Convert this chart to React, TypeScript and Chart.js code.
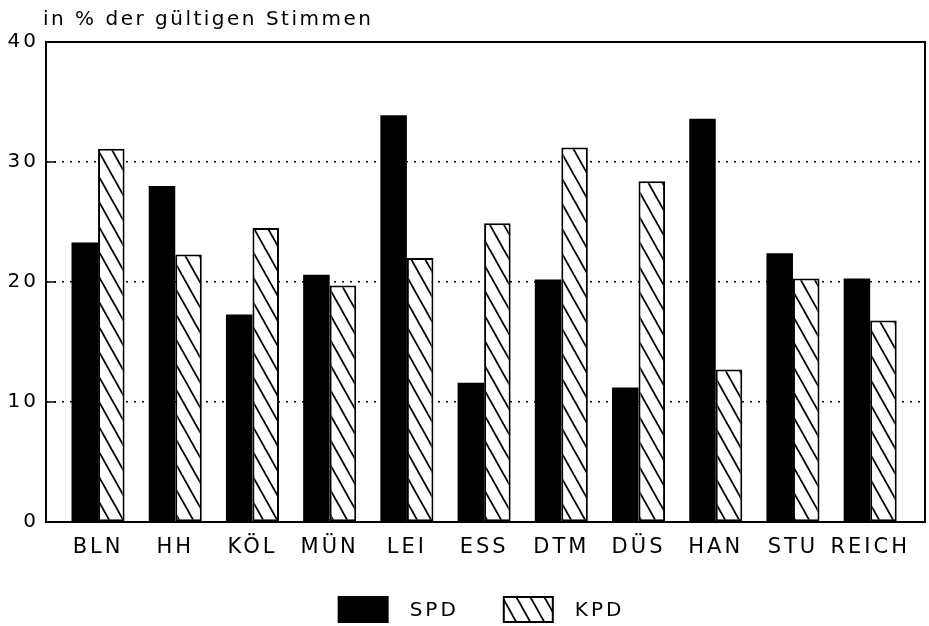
import { useEffect, useRef } from 'react';
import { Chart, registerables } from 'chart.js';

Chart.register(...registerables);

const CATEGORIES = ['BLN', 'HH', 'KÖL', 'MÜN', 'LEI', 'ESS', 'DTM', 'DÜS', 'HAN', 'STU', 'REICH'];
const SPD = [23.3, 28.0, 17.3, 20.6, 33.9, 11.6, 20.2, 11.2, 33.6, 22.4, 20.3];
const KPD = [31.1, 22.3, 24.5, 19.7, 22.0, 24.9, 31.2, 28.4, 12.7, 20.3, 16.8];
const SERIES_NAMES = ['SPD', 'KPD'];
const Y_MIN = 0;
const Y_MAX = 40;
const Y_STEP = 10;
const TITLE = 'in % der gültigen Stimmen';

const FONT = '"DejaVu Sans", "Liberation Sans", sans-serif';

function makeHatch(ctx: CanvasRenderingContext2D) {
  const w = 14;
  const h = 25;
  const c = document.createElement('canvas');
  c.width = w;
  c.height = h;
  const g = c.getContext('2d')!;
  g.fillStyle = '#fff';
  g.fillRect(0, 0, w, h);
  g.strokeStyle = '#000';
  g.lineWidth = 1.8;
  for (const ox of [-w, 0, w]) {
    g.beginPath();
    g.moveTo(ox - w, -h);
    g.lineTo(ox + 2 * w, 2 * h);
    g.stroke();
  }
  return ctx.createPattern(c, 'repeat')!;
}

const spacingPlugin = {
  id: 'spacing',
  beforeDraw(chart: any) {
    (chart.ctx as any).letterSpacing = '3px';
  },
};

const framePlugin = {
  id: 'frame',
  afterDatasetsDraw(chart: any) {
    const { ctx, chartArea } = chart;
    const { left, right, top, bottom } = chartArea;
    ctx.save();
    ctx.strokeStyle = '#000';
    ctx.lineWidth = 2;
    ctx.setLineDash([]);
    ctx.strokeRect(left, top, right - left, bottom - top);
    const y = chart.scales.y;
    ctx.lineWidth = 1.5;
    y.ticks.forEach((t: any) => {
      const py = y.getPixelForValue(t.value);
      ctx.beginPath();
      ctx.moveTo(left, py);
      ctx.lineTo(left + 10, py);
      ctx.stroke();
    });
    ctx.restore();
  },
};

const titlePlugin = {
  id: 'topTitle',
  afterDraw(chart: any) {
    const { ctx, chartArea } = chart;
    ctx.save();
    ctx.font = `20px ${FONT}`;
    ctx.letterSpacing = '2.5px';
    ctx.fillStyle = '#000';
    ctx.textAlign = 'left';
    ctx.textBaseline = 'alphabetic';
    ctx.fillText(TITLE, chartArea.left - 3, chartArea.top - 17);
    ctx.restore();
  },
};

const legendPlugin = {
  id: 'bottomLegend',
  afterDraw(chart: any) {
    const { ctx, chartArea } = chart;
    ctx.save();
    ctx.font = `20px ${FONT}`;
    ctx.letterSpacing = '3px';
    ctx.textBaseline = 'middle';
    ctx.textAlign = 'left';
    const boxW = 49;
    const boxH = 25;
    const gap = 22;
    const itemGap = 45;
    const items = chart.data.datasets.map((ds: any) => ({
      label: ds.label,
      fill: ds.backgroundColor,
      border: ds.borderColor,
      bw: ds.borderWidth,
    }));
    const widths = items.map((it: any) => boxW + gap + ctx.measureText(it.label).width);
    const total = widths.reduce((a: number, b: number) => a + b, 0) + itemGap * (items.length - 1);
    let x = (chartArea.left + chartArea.right) / 2 - 4 - total / 2;
    const cy = chart.height - 16.5;
    items.forEach((it: any, i: number) => {
      ctx.fillStyle = it.fill;
      ctx.fillRect(x, cy - boxH / 2, boxW, boxH);
      ctx.strokeStyle = '#000';
      ctx.lineWidth = 2;
      ctx.strokeRect(x, cy - boxH / 2, boxW, boxH);
      ctx.fillStyle = '#000';
      ctx.fillText(it.label, x + boxW + gap, cy + 1);
      x += widths[i] + itemGap;
    });
    ctx.restore();
  },
};

export default function App() {
  const ref = useRef<HTMLCanvasElement | null>(null);

  useEffect(() => {
    const canvas = ref.current!;
    const ctx = canvas.getContext('2d')!;
    const hatch = makeHatch(ctx);
    const chart = new Chart(canvas, {
      type: 'bar',
      data: {
        datasets: [
          {
            label: SERIES_NAMES[0],
            data: SPD.map((v, i) => ({ x: i, y: v })),
            backgroundColor: '#000',
            borderColor: '#000',
            borderWidth: 0,
          },
          {
            label: SERIES_NAMES[1],
            data: KPD.map((v, i) => ({ x: i, y: v })),
            backgroundColor: hatch as any,
            borderColor: '#000',
            borderWidth: 2,
            borderSkipped: false,
          },
        ],
      },
      options: {
        responsive: false,
        animation: false,
        devicePixelRatio: 1,
        layout: { padding: { top: 42, right: 4, left: 0, bottom: 0 } },
        datasets: { bar: { categoryPercentage: 0.687, barPercentage: 1 } } as any,
        plugins: {
          legend: { display: false },
          tooltip: { enabled: false },
          title: { display: false },
        },
        scales: {
          x: {
            type: 'linear',
            min: -0.674,
            max: 10.71,
            offset: false,
            ticks: {
              stepSize: 1,
              includeBounds: false,
              autoSkip: false,
              maxRotation: 0,
              minRotation: 0,
              padding: 13,
              color: '#000',
              font: { family: FONT, size: 21 },
              callback: (v: any) => CATEGORIES[Math.round(v)] ?? '',
            },
            grid: { display: false, drawTicks: false },
            border: { display: false },
            afterFit: (s: any) => {
              s.height = 104;
            },
          } as any,
          y: {
            min: Y_MIN,
            max: Y_MAX,
            ticks: {
              stepSize: Y_STEP,
              padding: 7,
              color: '#000',
              font: { family: FONT, size: 20 },
            },
            grid: { color: '#000', lineWidth: 1.5, drawTicks: false },
            border: { display: false, dash: [2, 6] },
            afterFit: (s: any) => {
              s.width = 46;
            },
          } as any,
        },
      },
      plugins: [spacingPlugin, framePlugin, titlePlugin, legendPlugin],
    });
    return () => chart.destroy();
  }, []);

  return (
    <div style={{ position: 'fixed', left: 0, top: 0, width: 929, height: 626, background: '#fff' }}>
      <canvas ref={ref} width={929} height={626} style={{ width: 929, height: 626, display: 'block' }} />
    </div>
  );
}
